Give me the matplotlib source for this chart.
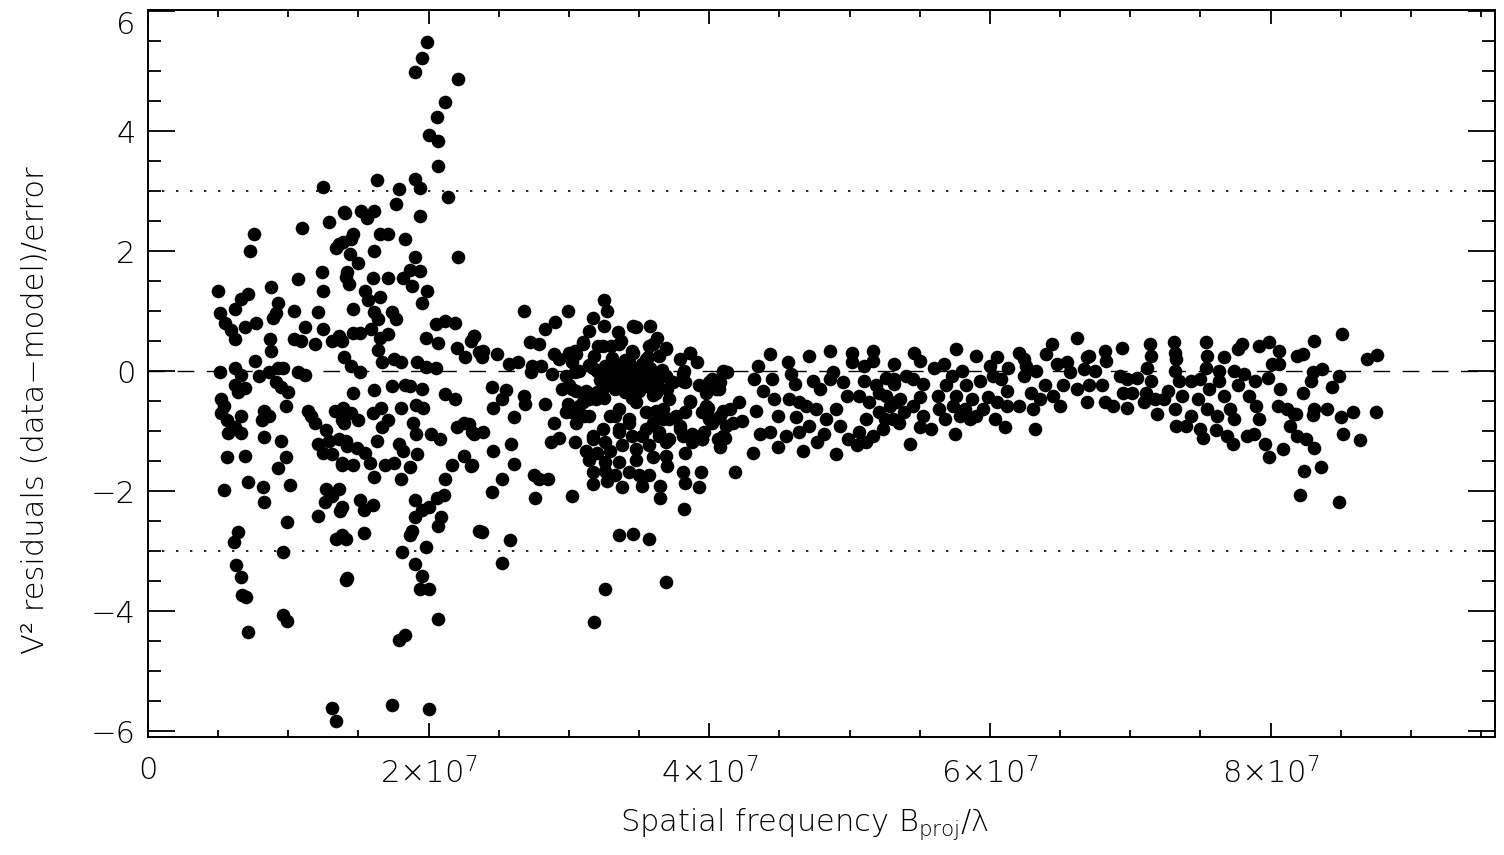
import numpy as np
import matplotlib
matplotlib.use('Agg')
import matplotlib.pyplot as plt
from matplotlib.ticker import MultipleLocator

# (spatial frequency [1e7], V^2 residual [sigma]), grouped by frequency
pts_low = [
    (1.405, 2.64), (1.29, 2.48), (1.10, 2.38), (0.757, 2.29), (0.726, 2.0), (1.34, 2.06), (1.39, 2.15), (1.24, 1.66),
    (1.07, 1.53), (1.25, 1.33), (1.41, 1.57), (0.88, 1.40), (0.50, 1.34), (0.71, 1.29), (0.66, 1.20), (0.93, 1.14),
    (1.04, 1.0), (1.21, 0.98), (0.51, 0.97), (0.62, 1.03), (0.91, 0.97), (0.89, 0.88), (0.55, 0.80), (0.59, 0.68),
    (0.62, 0.54), (0.69, 0.74), (0.77, 0.80), (1.12, 0.74), (1.25, 0.71), (1.04, 0.54), (1.09, 0.51), (0.87, 0.54),
    (0.88, 0.34), (1.19, 0.45), (1.31, 0.51), (1.38, 0.51), (0.76, 0.17), (0.51, -0.01), (0.62, 0.05), (0.66, -0.06),
    (0.79, -0.09), (0.86, -0.01), (0.93, 0.05), (0.96, 0.05), (1.07, -0.01), (1.12, -0.06), (0.91, -0.18), (0.95, -0.27),
    (1.0, -0.35), (0.98, -0.58), (0.62, -0.24), (0.64, -0.35), (0.69, -0.29), (0.52, -0.47), (0.54, -0.58), (0.52, -0.70),
    (0.56, -0.81), (0.66, -0.75), (0.62, -0.93), (0.57, -1.04), (0.66, -1.04), (0.83, -0.67), (0.81, -0.81), (0.86, -0.75),
    (0.83, -1.10), (1.14, -0.67), (1.16, -0.75), (1.19, -0.87), (1.33, -0.67), (1.38, -0.81), (1.27, -0.98), (1.29, -1.16),
    (1.21, -1.21), (1.25, -1.36), (1.31, -1.39), (1.38, -1.56), (1.41, -1.16), (0.95, -1.16), (0.98, -1.44), (0.93, -1.62),
    (0.56, -1.44), (0.69, -1.41), (0.54, -1.99), (0.71, -1.85), (0.82, -1.93), (0.83, -2.19), (1.01, -1.90), (1.27, -1.96),
    (1.31, -2.08), (1.26, -2.19), (1.21, -2.42), (1.37, -2.33), (0.99, -2.51), (1.34, -2.80), (1.41, -2.80), (0.64, -2.68),
    (0.61, -2.85), (0.96, -3.02), (1.41, -3.48), (0.63, -3.23), (0.66, -3.43), (0.67, -3.74), (0.70, -3.77), (0.71, -4.35),
    (0.96, -4.06), (0.99, -4.17), (1.31, -5.61), (1.34, -5.84), (1.25, 3.07),
]

pts_mid = [
    (1.99, 5.49), (1.95, 5.22), (1.90, 4.98), (2.21, 4.87), (2.12, 4.49), (2.06, 4.24), (2.0, 3.93), (2.07, 3.83),
    (2.07, 3.42), (1.63, 3.18), (1.90, 3.20), (1.94, 3.05), (1.79, 3.04), (2.14, 2.91), (1.40, 2.65), (1.52, 2.67),
    (1.61, 2.67), (1.56, 2.55), (1.77, 2.78), (1.94, 2.58), (1.46, 2.28), (1.45, 2.20), (1.65, 2.28), (1.71, 2.28),
    (1.83, 2.21), (1.61, 2.0), (1.36, 2.12), (1.44, 1.96), (1.50, 1.81), (1.90, 1.90), (2.21, 1.90), (1.42, 1.65),
    (1.43, 1.46), (1.6, 1.56), (1.71, 1.56), (1.82, 1.55), (1.87, 1.69), (1.94, 1.67), (1.88, 1.42), (1.99, 1.34),
    (1.95, 1.14), (1.55, 1.34), (1.57, 1.18), (1.65, 1.24), (1.46, 1.04), (1.61, 0.98), (1.64, 0.87), (1.74, 0.98),
    (1.77, 0.87), (2.05, 0.79), (2.12, 0.83), (2.19, 0.81), (1.36, 0.59), (1.46, 0.63), (1.51, 0.63), (1.59, 0.71),
    (1.65, 0.55), (1.71, 0.62), (1.98, 0.55), (2.07, 0.47), (2.2, 0.39), (2.26, 0.24), (2.32, 0.59), (2.36, 0.32),
    (1.40, 0.24), (1.45, 0.08), (1.51, -0.01), (1.64, 0.36), (1.67, 0.16), (1.75, 0.20), (1.80, 0.16), (1.92, 0.16),
    (1.98, 0.07), (2.05, 0.05), (1.46, -0.36), (1.61, -0.32), (1.74, -0.25), (1.83, -0.23), (1.87, -0.25), (1.95, -0.30),
    (2.12, -0.39), (2.19, -0.47), (1.39, -0.62), (1.45, -0.70), (1.60, -0.70), (1.66, -0.62), (1.80, -0.62), (1.91, -0.56),
    (1.96, -0.62), (1.40, -0.86), (1.50, -0.82), (1.67, -0.94), (1.71, -0.82), (1.89, -0.86), (1.91, -1.05), (2.02, -1.05),
    (2.08, -1.13), (2.20, -0.94), (2.25, -0.86), (2.31, -1.01), (1.36, -1.13), (1.42, -1.25), (1.49, -1.29), (1.55, -1.37),
    (1.63, -1.17), (1.79, -1.21), (1.82, -1.33), (1.38, -1.53), (1.46, -1.56), (1.58, -1.53), (1.69, -1.56), (1.75, -1.53),
    (1.87, -1.60), (1.92, -1.39), (2.25, -1.41), (2.31, -1.56), (2.17, -1.56), (2.12, -1.80), (1.61, -1.76), (1.80, -1.80),
    (1.36, -1.96), (1.38, -2.27), (1.51, -2.15), (1.60, -2.23), (1.54, -2.31), (1.90, -2.15), (1.95, -2.31), (2.0, -2.27),
    (2.06, -2.11), (2.11, -2.07), (2.09, -2.43), (2.07, -2.58), (2.36, -2.66), (1.90, -2.43), (1.88, -2.66), (1.87, -2.74),
    (1.38, -2.74), (1.54, -2.70), (1.81, -3.02), (1.98, -2.94), (1.42, -3.45), (1.90, -3.21), (1.95, -3.41), (1.94, -3.64),
    (2.0, -3.64), (2.07, -4.14), (1.83, -4.40), (1.79, -4.48), (1.74, -5.56), (2.0, -5.64),
]

pts_gap = [
    (2.68, 1.0), (2.32, 0.59), (2.30, 0.51), (2.39, 0.34), (2.49, 0.28), (2.38, 0.23), (2.72, 0.48), (2.57, 0.12),
    (2.64, 0.15), (2.74, 0.09), (2.73, -0.02), (2.45, -0.26), (2.55, -0.31), (2.52, -0.46), (2.46, -0.61), (2.68, -0.41),
    (2.69, -0.55), (2.61, -0.77), (2.32, -1.05), (2.39, -1.02), (2.29, -0.88), (2.59, -1.22), (2.46, -1.33), (2.30, -1.58),
    (2.61, -1.55), (2.52, -1.8), (2.75, -1.74), (2.45, -2.02), (2.76, -2.11), (2.38, -2.68), (2.58, -2.81), (2.52, -3.2),
]

pts_cluster = [
    (3.25, 1.19), (3.27, 1.0), (2.99, 1.0), (2.83, 0.7), (2.90, 0.82), (2.79, 0.45), (3.17, 0.89), (3.14, 0.67),
    (3.25, 0.76), (3.35, 0.65), (3.37, 0.5), (3.21, 0.42), (3.30, 0.42), (3.48, 0.73), (3.58, 0.76), (3.63, 0.56),
    (3.57, 0.42), (3.69, 0.39), (3.86, 0.31), (3.91, 0.15), (3.79, 0.2), (3.56, 0.23), (3.45, 0.34), (2.89, 0.28),
    (2.93, 0.2), (3.05, 0.28), (3.10, 0.48), (3.18, 0.26), (2.80, 0.09), (2.88, -0.05), (2.98, -0.08), (3.07, 0.0),
    (3.17, 0.06), (3.26, 0.09), (3.33, 0.12), (3.40, 0.06), (3.48, 0.0), (3.29, -0.11), (3.37, -0.08), (3.44, -0.13),
    (3.51, -0.13), (3.25, -0.27), (3.33, -0.30), (3.42, -0.24), (3.50, -0.33), (3.55, -0.08), (3.62, -0.13), (3.69, -0.08),
    (3.74, -0.19), (3.81, -0.05), (3.83, -0.19), (3.93, -0.24), (3.98, -0.36), (4.02, -0.13), (4.07, -0.30), (2.95, -0.3),
    (3.02, -0.3), (2.83, -0.55), (2.99, -0.55), (3.10, -0.52), (3.19, -0.47), (2.98, -0.69), (2.89, -0.86), (3.05, -0.86),
    (3.14, -0.75), (3.33, -0.75), (3.43, -0.86), (3.55, -0.69), (3.62, -0.66), (3.67, -0.80), (3.76, -0.75), (3.83, -0.69),
    (3.86, -0.52), (3.79, -0.91), (3.55, -0.97), (3.64, -1.02), (3.36, -1.02), (3.45, -1.08), (3.26, -1.19), (3.95, -0.69),
    (3.96, -1.02), (4.02, -0.86), (4.06, -1.13), (2.87, -1.19), (2.93, -1.11), (3.04, -1.19), (3.12, -1.33), (3.17, -1.13),
    (3.20, -1.36), (3.29, -1.33), (3.38, -1.24), (3.48, -1.30), (3.57, -1.24), (3.69, -1.19), (3.69, -1.41), (3.81, -1.08),
    (3.88, -1.19), (3.83, -1.36), (3.14, -1.49), (3.26, -1.52), (3.36, -1.52), (3.48, -1.49), (3.60, -1.44), (3.70, -1.58),
    (3.17, -1.69), (3.26, -1.66), (3.33, -1.74), (3.43, -1.69), (3.50, -1.74), (3.57, -1.74), (3.17, -1.88), (3.27, -1.83),
    (3.38, -1.94), (3.52, -1.91), (3.65, -1.91), (3.65, -2.11), (3.81, -1.69), (3.83, -1.86), (3.94, -1.69), (3.93, -1.94),
    (3.02, -2.08), (2.79, -1.8), (2.85, -1.8), (3.82, -2.3), (3.36, -2.74), (3.46, -2.72), (3.57, -2.80), (3.26, -3.63),
    (3.69, -3.51), (3.18, -4.18),
]

pts_core = [
    (3.10, 0.45), (3.04, 0.34), (3.24, 0.42), (3.36, 0.45), (3.46, 0.31), (3.43, 0.15), (3.55, 0.20), (3.64, 0.26),
    (3.69, 0.37), (3.60, 0.45), (3.46, 0.76), (3.86, 0.31), (3.82, 0.0), (3.81, -0.16), (4.0, -0.19), (4.10, -0.02),
    (4.05, -0.30), (3.98, -0.58), (4.0, -0.80), (4.08, -0.75), (4.12, -0.91), (3.86, -0.50), (3.79, -0.97), (3.88, -1.05),
    (3.95, -1.13), (4.10, -1.08), (3.14, 0.10), (3.20, 0.0), (3.22, -0.15), (3.28, 0.02), (3.30, -0.22), (3.35, 0.0),
    (3.36, -0.18), (3.40, -0.35), (3.45, 0.05), (3.47, -0.22), (3.52, -0.05), (3.55, -0.25), (3.58, 0.05), (3.60, -0.40),
    (3.63, -0.20), (3.40, 0.18), (3.31, 0.22), (3.52, 0.12), (3.66, 0.02), (3.70, -0.30), (3.20, -0.35), (3.25, -0.45),
    (3.45, -0.45), (3.0, 0.31), (3.02, 0.15), (3.04, -0.02), (3.0, -0.24), (3.05, -0.33), (3.12, -0.33), (3.14, -0.47),
    (3.07, -0.58), (3.02, -0.69), (3.11, -0.75), (3.29, -0.75), (3.36, -0.63), (3.43, -0.80), (3.48, -0.52), (3.60, -0.86),
    (3.67, -0.63), (3.71, -0.80), (3.71, -0.47), (3.62, -0.36), (3.48, -0.30), (3.36, -0.97), (3.24, -0.97), (3.17, -1.08),
    (3.52, -1.08), (3.64, -1.08), (3.71, -1.13),
]

pts_band1 = [
    (4.10, 0.0), (4.13, -0.02), (4.01, -0.16), (4.08, -0.19), (3.99, -0.61), (4.04, -0.8), (4.10, -0.66), (4.15, -0.63),
    (4.21, -0.52), (3.95, -1.13), (4.11, -1.11), (4.08, -1.27), (4.17, -0.86), (4.23, -0.83), (4.18, -1.68), (4.35, 0.09),
    (4.43, 0.28), (4.32, -0.13), (4.38, -0.33), (4.45, -0.13), (4.33, -0.66), (4.46, -0.47), (4.49, -0.75), (4.36, -1.05),
    (4.31, -1.36), (4.43, -1.02), (4.49, -1.27), (4.56, 0.15), (4.58, -0.05), (4.61, -0.22), (4.57, -0.47), (4.64, -0.52),
    (4.62, -0.77), (4.71, 0.26), (4.74, -0.16), (4.79, -0.30), (4.69, -0.58), (4.76, -0.63), (4.55, -1.08), (4.64, -1.02),
    (4.71, -0.91), (4.67, -1.33), (4.77, -1.19), (4.82, -1.05), (4.86, 0.34), (4.88, -0.02), (4.86, -0.13), (4.95, -0.19),
    (4.98, -0.41), (4.90, -0.63), (4.83, -0.80), (4.93, -0.91), (4.99, -1.13), (4.90, -1.38), (5.02, 0.31), (5.02, 0.15),
    (5.10, 0.09), (5.17, 0.34), (5.17, 0.17), (5.10, -0.16), (5.19, -0.24), (5.07, -0.41), (5.14, -0.52), (5.26, -0.41),
    (5.21, -0.69), (5.12, -0.80), (5.07, -1.02), (5.17, -1.08), (5.24, -0.97), (5.31, -0.80), (5.05, -1.24), (5.12, -1.19),
    (5.32, 0.12), (5.32, -0.13), (5.33, -0.52),
]

pts_band2 = [
    (5.46, 0.31), (5.50, 0.17), (5.26, -0.11), (5.32, -0.22), (5.40, -0.08), (5.45, -0.13), (5.21, -0.36), (5.29, -0.58),
    (5.25, -0.80), (5.36, -0.47), (5.39, -0.69), (5.35, -0.86), (5.45, -0.58), (5.52, -0.22), (5.50, -0.44), (5.52, -0.75),
    (5.50, -0.94), (5.43, -1.22), (5.58, -0.97), (5.60, 0.06), (5.67, 0.12), (5.76, 0.37), (5.73, -0.08), (5.80, 0.0),
    (5.69, -0.24), (5.63, -0.41), (5.76, -0.41), (5.83, -0.24), (5.64, -0.63), (5.74, -0.58), (5.82, -0.63), (5.68, -0.80),
    (5.79, -0.75), (5.75, -1.05), (5.86, -0.80), (5.90, 0.26), (5.93, -0.16), (5.87, -0.47), (5.95, -0.63), (5.90, -0.75),
    (6.0, 0.09), (6.05, 0.23), (6.02, -0.08), (6.08, -0.13), (6.13, 0.06), (5.99, -0.44), (6.05, -0.52), (6.12, -0.33),
    (6.12, -0.58), (6.04, -0.80), (6.11, -0.94), (6.21, 0.31), (6.24, 0.20), (6.26, 0.09), (6.24, -0.08), (6.29, -0.36),
    (6.21, -0.58), (6.31, -0.63), (6.32, -0.97), (6.33, 0.0), (6.40, 0.28), (6.44, 0.45), (6.39, -0.24), (6.48, 0.12),
    (6.45, -0.41), (6.50, -0.58), (6.52, -0.24), (6.55, 0.15), (6.57, -0.02), (6.62, 0.56), (6.62, -0.30), (6.67, 0.03),
    (6.69, 0.23), (6.69, -0.52), (6.36, -0.47),
]

pts_band3 = [
    (6.71, 0.26), (6.82, 0.34), (6.94, 0.39), (6.83, 0.17), (6.75, 0.0), (6.71, -0.24), (6.80, -0.24), (6.82, -0.52),
    (6.88, -0.58), (6.93, -0.08), (6.98, -0.13), (7.05, -0.11), (6.95, -0.36), (7.01, -0.36), (6.98, -0.61), (7.14, 0.45),
    (7.15, 0.26), (7.12, 0.06), (7.15, -0.16), (7.11, -0.36), (7.10, -0.52), (7.18, -0.47), (7.19, -0.72), (7.31, 0.48),
    (7.32, 0.31), (7.33, 0.20), (7.32, 0.0), (7.35, -0.16), (7.27, -0.33), (7.24, -0.47), (7.32, -0.63), (7.33, -0.91),
    (7.40, -0.91), (7.43, -0.75), (7.37, -0.41), (7.43, -0.16), (7.54, 0.48), (7.55, 0.26), (7.54, 0.06), (7.50, -0.13),
    (7.56, -0.30), (7.63, 0.0), (7.67, 0.23), (7.48, -0.47), (7.55, -0.63), (7.62, -0.75), (7.50, -0.97), (7.61, -0.99),
    (7.52, -1.11), (7.67, -0.41), (7.71, -0.63), (7.74, -0.80), (7.69, -1.08), (7.73, -1.22), (7.63, -0.16), (7.77, 0.37),
    (7.80, 0.45), (7.74, 0.0), (7.81, -0.05), (7.77, -0.24), (7.85, -0.41), (7.90, -0.58), (7.92, -0.80), (7.83, -1.08),
    (7.88, -1.05), (7.89, -0.16), (7.92, 0.42), (7.99, 0.48), (8.06, 0.34), (8.01, 0.12), (8.06, 0.12), (7.98, -0.11),
    (8.07, -0.30), (8.05, -0.58), (8.12, -0.63), (8.17, -0.72), (8.14, -0.91), (7.96, -1.22), (7.99, -1.44), (8.09, -1.30),
    (8.19, 0.26), (8.19, -1.08),
]

pts_high = [
    (8.23, 0.28), (8.31, 0.50), (8.51, 0.62), (8.30, -0.02), (8.37, 0.03), (8.29, -0.16), (8.49, -0.08), (8.44, -0.27),
    (8.23, -0.36), (8.69, 0.20), (8.76, 0.27), (8.18, -0.72), (8.31, -0.63), (8.30, -0.74), (8.40, -0.63), (8.50, -0.77),
    (8.59, -0.69), (8.75, -0.68), (8.52, -1.05), (8.64, -1.15), (8.25, -1.13), (8.31, -1.29), (8.24, -1.66), (8.36, -1.60),
    (8.21, -2.07), (8.49, -2.19),
]

xtick_vals = [0, 2e7, 4e7, 6e7, 8e7]
xtick_labels = ['0', '2×10$^{7}$', '4×10$^{7}$', '6×10$^{7}$', '8×10$^{7}$']
ytick_vals = [-6, -4, -2, 0, 2, 4, 6]

allpts = np.array(pts_low + pts_mid + pts_gap + pts_cluster + pts_core
                  + pts_band1 + pts_band2 + pts_band3 + pts_high)
freq = allpts[:, 0] * 1e7
resid = allpts[:, 1]

plt.rcParams['font.family'] = ['DejaVu Sans']
plt.rcParams['font.weight'] = 'light'
plt.rcParams['axes.labelweight'] = 'light'
plt.rcParams['font.size'] = 22
plt.rcParams['mathtext.fontset'] = 'custom'
plt.rcParams['mathtext.rm'] = 'DejaVu Sans:light'
plt.rcParams['mathtext.it'] = 'DejaVu Sans:italic:light'
plt.rcParams['mathtext.bf'] = 'DejaVu Sans:bold'

fig = plt.figure(figsize=(15.04, 8.55), dpi=100)
ax = fig.add_axes([148 / 1504, 118 / 855, 1347 / 1504, 727 / 855])

ax.axhline(0, color='black', lw=1.0, dashes=(12, 9))
ax.axhline(3, color='black', lw=1.2, dashes=(1.4, 7))
ax.axhline(-3, color='black', lw=1.2, dashes=(1.4, 7))
ax.plot(freq, resid, 'o', color='black', ms=9.8, mec='none')

ax.set_xlim(0, 9.6e7)
ax.set_ylim(-6.1, 6.02)
ax.set_xticks(xtick_vals, xtick_labels)
ax.set_yticks(ytick_vals)
ax.xaxis.set_minor_locator(MultipleLocator(0.5e7))
ax.yaxis.set_minor_locator(MultipleLocator(0.5))

ax.tick_params(which='both', direction='in', top=True, right=True, width=1.3, colors='black')
ax.tick_params(axis='x', which='major', length=10, pad=14)
ax.tick_params(axis='x', which='minor', length=5)
ax.tick_params(axis='y', which='major', length=19.5, pad=9)
ax.tick_params(axis='y', which='minor', length=9.5)
for s in ax.spines.values():
    s.set_linewidth(1.4)

for lab in ax.get_yticklabels():
    if lab.get_text() == '6':
        lab.set_verticalalignment('top')

ax.set_xlabel('Spatial frequency B$_{\\mathregular{proj}}$/λ', fontsize=22)
ax.set_ylabel('V² residuals (data−model)/error', fontsize=22)
ax.xaxis.set_label_coords((805 - 148) / 1347, -(806 - 737) / 727)
ax.yaxis.set_label_coords(-(148 - 50) / 1347, (737 - 410) / 727)

fig.savefig('out.png', dpi=100)
